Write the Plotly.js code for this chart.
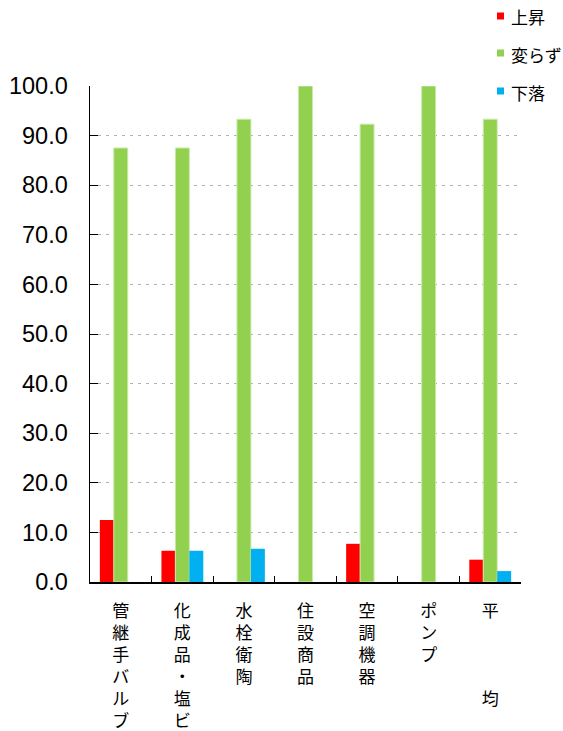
<!DOCTYPE html>
<html><head><meta charset="utf-8">
<script src="https://cdn.plot.ly/plotly-3.0.1.min.js"></script>
<style>html,body{margin:0;padding:0;background:#fff;}#chart{width:563px;height:731px;}</style>
</head><body><div id="chart"></div>
<script>
const categories = ["管<br>継<br>手<br>バ<br>ル<br>ブ", "化<br>成<br>品<br>・<br>塩<br>ビ", "水<br>栓<br>衛<br>陶", "住<br>設<br>商<br>品", "空<br>調<br>機<br>器", "ポ<br>ン<br>プ", "平<br> <br> <br> <br>均"];
const seriesNames = ["上昇", "変らず", "下落"];
const rise = [12.5, 6.3, 0, 0, 7.7, 0, 4.5];
const same = [87.5, 87.5, 93.3, 100, 92.3, 100, 93.3];
const fall = [0, 6.3, 6.7, 0, 0, 0, 2.2];
const colors = ["#FF0000", "#92D050", "#00B0F0"];

const W = 563, H = 731, L = 90, R = 42, T = 86, B = 149;
const pw = W - L - R, ph = H - T - B;
const px = x => (x - L) / pw;
const py = y => (H - B - y) / ph;

const cjk = '"Noto Sans CJK JP", "Noto Sans", sans-serif';
const traces = [rise, same, fall].map((v, i) => ({
  type: 'bar', x: categories, y: v, name: seriesNames[i], showlegend: false,
  marker: {color: colors[i], line: {width: i === 1 ? 1 : 0, color: '#c9eaa9'}},
  hoverinfo: 'y'
}));

const shapes = [{type: 'rect', xref: 'paper', yref: 'paper', x0: px(480), x1: px(563), y0: py(0), y1: py(108), fillcolor: '#fff', line: {width: 0}, layer: 'above'}];
const annotations = [];
const legY = [16, 53, 91];
seriesNames.forEach((n, i) => {
  shapes.push({type: 'rect', xref: 'paper', yref: 'paper', x0: px(497), x1: px(504), y0: py(legY[i] - 3.5), y1: py(legY[i] + 3.5), fillcolor: colors[i], line: {width: 0}, layer: 'above'});
  annotations.push({xref: 'paper', yref: 'paper', x: px(509), y: py(legY[i] + 1), xanchor: 'left', yanchor: 'middle', text: n, showarrow: false, font: {family: cjk, size: 17, color: '#000'}});
});

const layout = {
  width: W, height: H, margin: {l: L, r: R, t: T, b: B, pad: 0},
  paper_bgcolor: '#fff', plot_bgcolor: '#fff',
  bargap: 0.32, bargroupgap: 0, barmode: 'group',
  xaxis: {type: 'category', showline: true, linecolor: '#000', linewidth: 1.5, ticks: 'inside', ticklen: 6, tickcolor: '#000', tickson: 'boundaries', showgrid: false, tickfont: {family: cjk, size: 17, color: '#000'}, ticklabelstandoff: 13, fixedrange: true},
  yaxis: {range: [0, 100], dtick: 10, tickformat: '.1f', showline: true, linecolor: '#000', linewidth: 1.5, ticks: 'inside', ticklen: 8, tickcolor: '#000', showgrid: true, gridcolor: '#b0b0b0', gridwidth: 1, griddash: '3px,5px', zeroline: false, tickfont: {family: '"Liberation Sans", Arial, sans-serif', size: 23.5, color: '#000'}, ticklabelstandoff: 16, fixedrange: true},
  shapes: shapes, annotations: annotations, showlegend: false
};
Plotly.newPlot('chart', traces, layout, {displayModeBar: false, staticPlot: true});
</script></body></html>
